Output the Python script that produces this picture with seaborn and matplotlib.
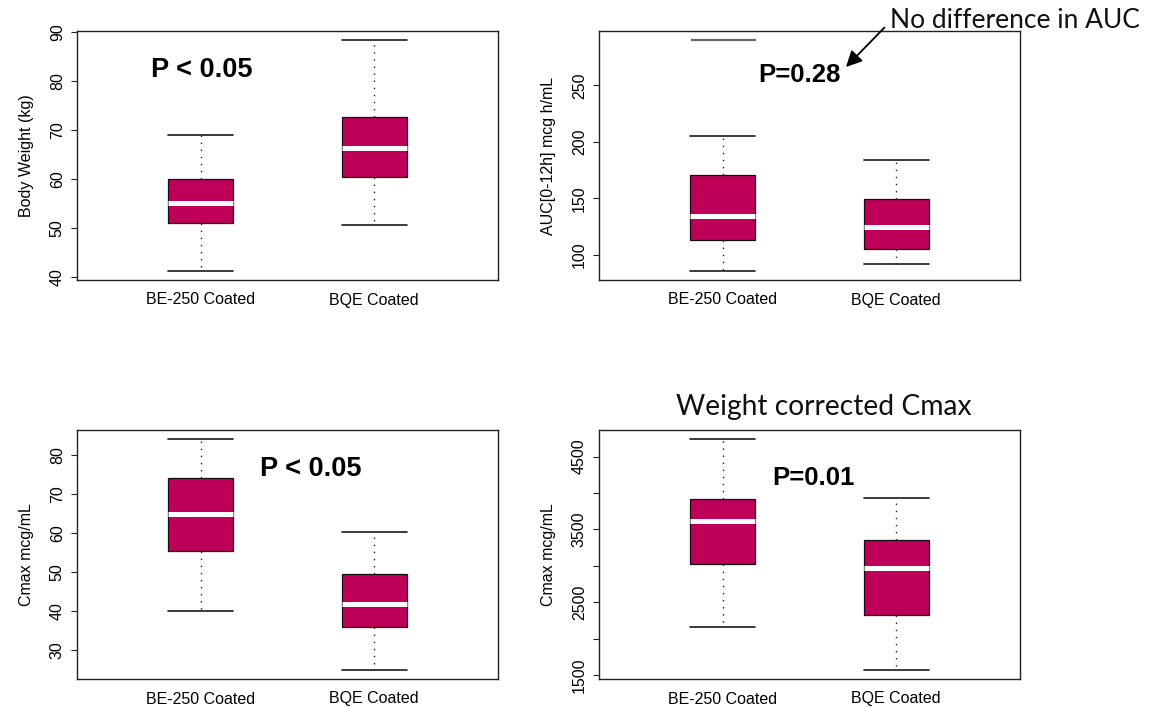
import numpy as np
import pandas as pd
import matplotlib
matplotlib.use("Agg")
import matplotlib.pyplot as plt
import seaborn as sns

# ---- data -------------------------------------------------------------
groups = ["BE-250 Coated", "BQE Coated"]

# five-number summaries per formulation: min, Q1, median, Q3, max
weight_be = [41.2, 51.0, 55.0, 60.0, 68.9]
weight_bqe = [50.5, 60.4, 66.2, 72.7, 88.3]

auc_be = [86.0, 113.3, 134.3, 171.1, 205.4]
auc_bqe = [91.6, 105.7, 124.8, 149.8, 183.7]
auc_outlier_be = [290.0]

cmax_be = [39.9, 55.3, 64.9, 74.2, 84.1]
cmax_bqe = [24.9, 35.9, 41.8, 49.5, 60.4]

wcmax_be = [2154, 3027, 3619, 3922, 4738]
wcmax_bqe = [1571, 2324, 2966, 3357, 3930]

weight_ticks = [40, 50, 60, 70, 80, 90]
auc_ticks = [100, 150, 200, 250]
cmax_ticks = [30, 40, 50, 60, 70, 80]
wcmax_ticks = [1500, 2000, 2500, 3000, 3500, 4000, 4500]
wcmax_ticklabels = ["1500", "", "2500", "", "3500", "", "4500"]

# ---- style ------------------------------------------------------------
sns.set_style("white")
plt.rcParams["font.family"] = ["Liberation Sans", "DejaVu Sans"]

BOX_COLOR = "#BE0058"
BOX_W = 0.375
LABEL_SIZE = 11.5
W, H = 1150, 707

fig = plt.figure(figsize=(W / 100, H / 100), dpi=100)


def px_axes(x0, y0, x1, y1):
    """Axes placed by its pixel box (top-left origin)."""
    return fig.add_axes([x0 / W, 1 - y1 / H, (x1 - x0) / W, (y1 - y0) / H])


ax_tl = px_axes(77, 31, 498, 280)
ax_tr = px_axes(599, 31, 1020, 280)
ax_bl = px_axes(77, 430, 498, 679)
ax_br = px_axes(599, 430, 1020, 679)


def draw_panel(ax, be, bqe, ylabel, ticks, ticklabels=None, outliers=None):
    df = pd.DataFrame({
        "group": [groups[0]] * len(be) + [groups[1]] * len(bqe),
        "value": list(be) + list(bqe),
    })
    sns.boxplot(
        data=df, x="group", y="value", order=groups, ax=ax,
        whis=(0, 100), width=BOX_W, color=BOX_COLOR, saturation=1,
        linecolor="#111111", linewidth=0.9, fliersize=0, capwidths=BOX_W,
        boxprops=dict(edgecolor="#111111", linewidth=0.9),
        medianprops=dict(color="white", linewidth=3.6, solid_capstyle="butt"),
        whiskerprops=dict(color="#2a2a2a", linewidth=1.0,
                          linestyle=(0, (1.1, 4.0))),
        capprops=dict(color="#1a1a1a", linewidth=1.2),
    )
    values = list(be) + list(bqe)
    if outliers:
        out_df = pd.DataFrame({"group": [g for g, _ in outliers],
                               "value": [v for _, v in outliers]})
        sns.stripplot(data=out_df, x="group", y="value", order=groups, ax=ax,
                      jitter=False, marker="_", size=46.8, linewidth=1.6,
                      color="#666666")
        values += [v for _, v in outliers]

    lo, hi = min(values), max(values)
    pad = 0.04 * (hi - lo)
    ax.set_ylim(lo - pad, hi + pad)
    ax.set_xlim(-0.713, 1.713)

    ax.set_xlabel("")
    ax.set_ylabel(ylabel, fontsize=LABEL_SIZE, color="black")
    ax.yaxis.set_label_coords(-0.102, 0.5)

    ax.set_yticks(ticks)
    labels = ticklabels if ticklabels is not None else [str(t) for t in ticks]
    ax.set_yticklabels(labels, rotation=90, va="center", fontsize=LABEL_SIZE)
    ax.set_xticks([0, 1])
    ax.set_xticklabels(groups, fontsize=LABEL_SIZE)
    ax.tick_params(axis="y", left=True, length=4.3, width=0.8, color="#222222",
                   pad=4.5, labelcolor="black")
    ax.tick_params(axis="x", bottom=False, length=0, pad=9, labelcolor="black")
    for sp in ax.spines.values():
        sp.set_visible(True)
        sp.set_color("#222222")
        sp.set_linewidth(1.0)
    ax.grid(False)


draw_panel(ax_tl, weight_be, weight_bqe, "Body Weight (kg)", weight_ticks)
draw_panel(ax_tr, auc_be, auc_bqe, "AUC[0-12h] mcg h/mL", auc_ticks,
           outliers=[(groups[0], auc_outlier_be[0])])
draw_panel(ax_bl, cmax_be, cmax_bqe, "Cmax mcg/mL", cmax_ticks)
draw_panel(ax_br, wcmax_be, wcmax_bqe, "Cmax mcg/mL", wcmax_ticks,
           ticklabels=wcmax_ticklabels)

# ---- p-value annotations ----------------------------------------------
p_kw = dict(fontweight="bold", ha="left", va="baseline", color="black")
ax_tl.text(0.175, 0.8165, "P < 0.05", transform=ax_tl.transAxes, fontsize=19.5, **p_kw)
ax_bl.text(0.435, 0.8155, "P < 0.05", transform=ax_bl.transAxes, fontsize=19.5, **p_kw)
ax_tr.text(0.378, 0.796, "P=0.28", transform=ax_tr.transAxes, fontsize=18.5, **p_kw)
ax_br.text(0.412, 0.781, "P=0.01", transform=ax_br.transAxes, fontsize=18.5, **p_kw)

# ---- slide callouts ---------------------------------------------------
callout_font = ["Lato", "DejaVu Sans"]
fig.text(890 / W, 1 - 28.3 / H, "No difference in AUC", family=callout_font,
         fontweight="normal", fontsize=19, ha="left", va="baseline", color="#111111")
fig.text(823.8 / W, 1 - 415 / H, "Weight corrected Cmax", family=callout_font,
         fontweight="normal", fontsize=20.3, ha="center", va="baseline", color="#111111")

ax_tr.annotate("", xy=(846, H - 67), xycoords="figure pixels",
               xytext=(884.5, H - 27.5), textcoords="figure pixels",
               arrowprops=dict(arrowstyle="-|>", lw=1.3, color="black",
                               shrinkA=0, shrinkB=0, mutation_scale=24),
               annotation_clip=False)

fig.savefig("out.png", dpi=100, facecolor="white")
